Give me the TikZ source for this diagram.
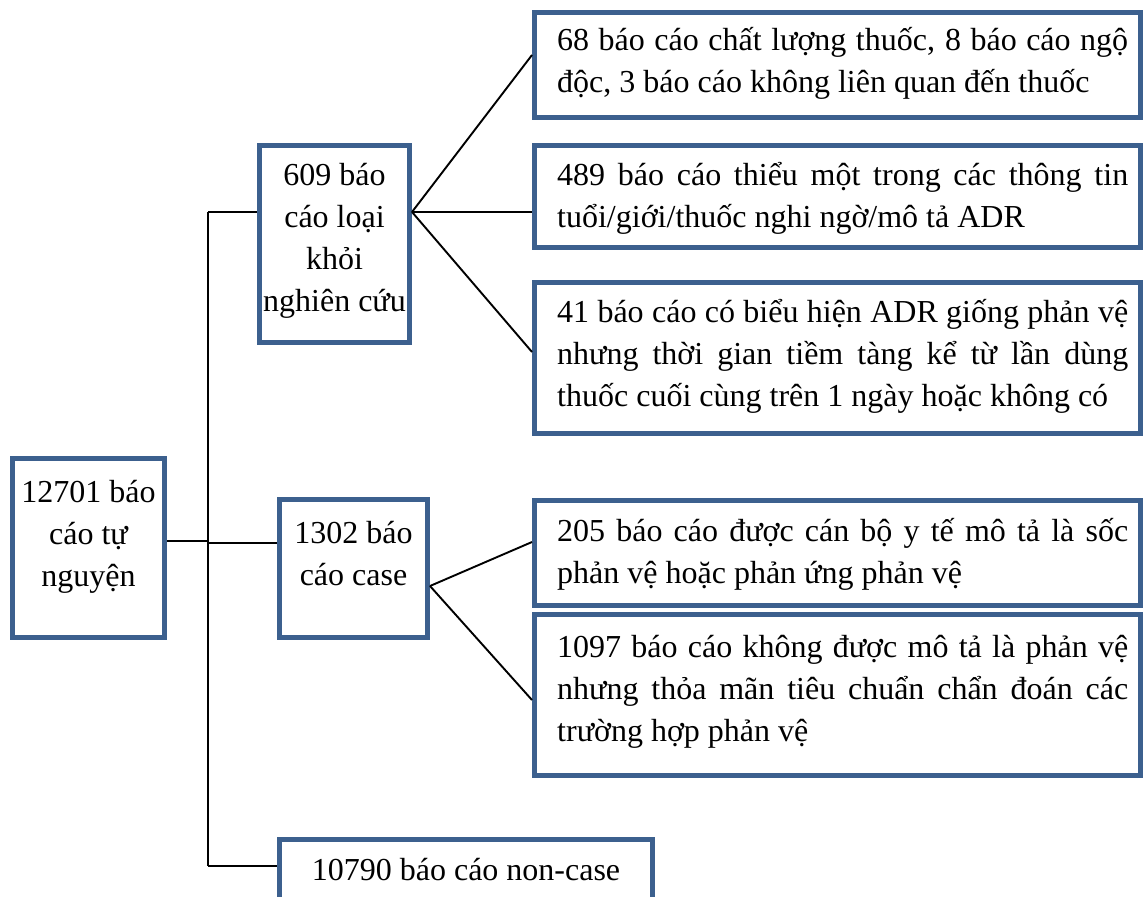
\documentclass[tikz,border=0pt]{standalone}
\usepackage{fontspec}
\setmainfont{Liberation Serif}
\definecolor{boxblue}{RGB}{60,96,142}
\tikzset{
  box/.style={draw=boxblue, line width=5pt, rectangle, inner sep=0pt, fill=white},
  link/.style={draw=black, line width=1.9pt},
  txt/.style={inner sep=0pt, font=\fontsize{32}{42}\selectfont},
}
\newcommand{\jtext}[1]{\parbox[t]{571pt}{\hyphenpenalty=10000 #1}}
\newcommand{\ctext}[2]{\parbox[t]{#1}{\centering #2}}
\begin{document}
\begin{tikzpicture}[x=1pt,y=-1pt]
\useasboundingbox (0,0) rectangle (1144,897);
\clip (0,0) rectangle (1144,897);
\fill[white] (0,0) rectangle (1144,897);
% boxes
\node[box, minimum width=152pt, minimum height=179pt] (A) at (88.5,548) {};
\node[box, minimum width=150pt, minimum height=197pt] (B) at (334.5,244) {};
\node[box, minimum width=148pt, minimum height=138pt] (C) at (353.5,568.5) {};
\node[box, minimum width=373pt, minimum height=78pt] (D) at (466,878.5) {};
\node[box, minimum width=606pt, minimum height=105pt] (R1) at (837.5,65) {};
\node[box, minimum width=606pt, minimum height=102pt] (R2) at (837.5,196.5) {};
\node[box, minimum width=606pt, minimum height=151pt] (R3) at (837.5,358) {};
\node[box, minimum width=606pt, minimum height=105pt] (R4) at (837.5,553) {};
\node[box, minimum width=606pt, minimum height=161pt] (R5) at (837.5,695) {};
% texts
\node[txt, anchor=base] (At) at (88.5,502) {\ctext{150pt}{12701 báo\\cáo tự\\nguyện}};
\node[txt, anchor=base] (Bt) at (334.5,185) {\ctext{150pt}{609 báo\\cáo loại\\khỏi\\nghiên cứu}};
\node[txt, anchor=base] (Ct) at (353.5,543) {\ctext{148pt}{1302 báo\\cáo case}};
\node[txt, anchor=base] (Dt) at (466,880) {10790 báo cáo non-case};
\node[txt, anchor=base west] (R1t) at (557,50) {\jtext{68 báo cáo chất lượng thuốc, 8 báo cáo ngộ\linebreak độc, 3 báo cáo không liên quan đến thuốc}};
\node[txt, anchor=base west] (R2t) at (557,185) {\jtext{489 báo cáo thiểu một trong các thông tin\linebreak tuổi/giới/thuốc nghi ngờ/mô tả ADR}};
\node[txt, anchor=base west] (R3t) at (557,322) {\jtext{41 báo cáo có biểu hiện ADR giống phản vệ\linebreak nhưng thời gian tiềm tàng kể từ lần dùng\linebreak thuốc cuối cùng trên 1 ngày hoặc không có}};
\node[txt, anchor=base west] (R4t) at (557,541) {\jtext{205 báo cáo được cán bộ y tế mô tả là sốc\linebreak phản vệ hoặc phản ứng phản vệ}};
\node[txt, anchor=base west] (R5t) at (557,657) {\jtext{1097 báo cáo không được mô tả là phản vệ\linebreak nhưng thỏa mãn tiêu chuẩn chẩn đoán các\linebreak trường hợp phản vệ}};
% trunk
\coordinate (tA) at (208,541);
\coordinate (tB) at (208,212);
\coordinate (tC) at (208,543);
\coordinate (tD) at (208,866);
\draw[link] ([yshift=7pt]A.east) -- (tA);
\draw[link] (tB) -- (tD);
\draw[link] (tB) -- ([yshift=32pt]B.west);
\draw[link] (tC) -- ([yshift=25.5pt]C.west);
\draw[link] (tD) -- ([yshift=12.5pt]D.west);
% fans
\draw[link] ([yshift=32pt]B.east) -- ([yshift=10pt]R1.west);
\draw[link] ([yshift=32pt]B.east) -- ([yshift=-15.5pt]R2.west);
\draw[link] ([yshift=32pt]B.east) -- ([yshift=6pt]R3.west);
\draw[link] ([yshift=-17.5pt]C.east) -- ([yshift=11pt]R4.west);
\draw[link] ([yshift=-17.5pt]C.east) -- ([yshift=-5pt]R5.west);
\end{tikzpicture}
\end{document}
